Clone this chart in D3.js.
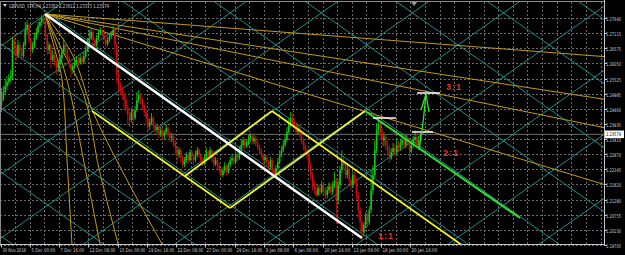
<!DOCTYPE html>
<html><head><meta charset="utf-8">
<script src="https://cdn.jsdelivr.net/npm/d3@7"></script>
<style>html,body{margin:0;padding:0;background:#000;overflow:hidden}svg{display:block}</style>
</head><body><svg id="c" width="625" height="255"></svg>
<script>
// ---------- DATA ----------
const chartTitle = "GBPUSD_STR,H4  1.23382 1.23612 1.23373 1.23574";
const firstOpen = 1.2460;
const closes = [
1.2477,1.2505,1.2526,1.2540,1.2554,1.2561,1.2687,1.2659,1.2635,1.2670,
1.2645,1.2631,1.2670,1.2722,1.2740,1.2687,1.2652,1.2670,1.2694,1.2715,
1.2736,1.2750,1.2764,1.2757,1.2705,1.2652,1.2670,1.2617,1.2635,1.2610,
1.2589,1.2603,1.2624,1.2645,1.2670,1.2652,1.2624,1.2603,1.2582,1.2596,
1.2610,1.2617,1.2607,1.2624,1.2610,1.2631,1.2652,1.2680,1.2694,1.2715,
1.2687,1.2670,1.2694,1.2712,1.2722,1.2705,1.2687,1.2673,1.2687,1.2701,
1.2708,1.2722,1.2670,1.2565,1.2530,1.2512,1.2495,1.2477,1.2449,1.2425,
1.2407,1.2435,1.2414,1.2442,1.2477,1.2495,1.2477,1.2460,1.2435,1.2414,
1.2386,1.2400,1.2414,1.2390,1.2372,1.2383,1.2358,1.2372,1.2351,1.2365,
1.2379,1.2362,1.2344,1.2351,1.2330,1.2309,1.2285,1.2302,1.2278,1.2250,
1.2267,1.2285,1.2267,1.2295,1.2278,1.2267,1.2285,1.2302,1.2285,1.2267,
1.2260,1.2278,1.2295,1.2281,1.2302,1.2274,1.2253,1.2267,1.2250,1.2232,
1.2215,1.2232,1.2246,1.2225,1.2250,1.2267,1.2274,1.2260,1.2285,1.2274,
1.2302,1.2320,1.2337,1.2316,1.2330,1.2344,1.2351,1.2334,1.2344,1.2327,
1.2313,1.2302,1.2285,1.2267,1.2278,1.2260,1.2243,1.2267,1.2232,1.2215,
1.2239,1.2260,1.2285,1.2302,1.2320,1.2337,1.2365,1.2390,1.2414,1.2400,
1.2390,1.2365,1.2379,1.2355,1.2337,1.2320,1.2302,1.2285,1.2250,1.2215,
1.2187,1.2162,1.2145,1.2169,1.2155,1.2180,1.2162,1.2145,1.2162,1.2176,
1.2155,1.2180,1.2197,1.2127,1.2180,1.2232,1.2267,1.2250,1.2215,1.2232,
1.2197,1.2180,1.2215,1.2197,1.2145,1.2092,1.2050,1.2015,1.2040,1.2075,
1.2050,1.2092,1.2162,1.2215,1.2302,1.2372,1.2390,1.2362,1.2337,1.2348,
1.2320,1.2302,1.2274,1.2295,1.2309,1.2295,1.2320,1.2309,1.2327,1.2337,
1.2320,1.2344,1.2330,1.2302,1.2320,1.2337,1.2348,1.2320,1.23382,1.23574];
const highs = [
1.2519,1.2526,1.2547,1.2561,1.2568,1.2582,1.2698,1.2705,1.2670,1.2687,
1.2680,1.2659,1.2680,1.2750,1.2757,1.2747,1.2694,1.2680,1.2712,1.2729,
1.2750,1.2764,1.2775,1.2778,1.2764,1.2712,1.2680,1.2673,1.2652,1.2645,
1.2617,1.2617,1.2635,1.2659,1.2694,1.2680,1.2659,1.2631,1.2610,1.2603,
1.2617,1.2631,1.2628,1.2635,1.2631,1.2645,1.2666,1.2694,1.2722,1.2729,
1.2722,1.2694,1.2705,1.2722,1.2733,1.2729,1.2712,1.2694,1.2698,1.2712,
1.2719,1.2736,1.2729,1.2677,1.2575,1.2540,1.2523,1.2505,1.2488,1.2460,
1.2435,1.2449,1.2442,1.2456,1.2505,1.2512,1.2502,1.2484,1.2467,1.2442,
1.2421,1.2411,1.2432,1.2421,1.2400,1.2393,1.2390,1.2383,1.2379,1.2372,
1.2393,1.2386,1.2369,1.2362,1.2358,1.2337,1.2316,1.2313,1.2309,1.2285,
1.2278,1.2295,1.2292,1.2306,1.2302,1.2285,1.2299,1.2313,1.2309,1.2292,
1.2278,1.2288,1.2309,1.2302,1.2313,1.2306,1.2281,1.2278,1.2274,1.2257,
1.2239,1.2243,1.2260,1.2253,1.2260,1.2278,1.2288,1.2281,1.2295,1.2295,
1.2316,1.2337,1.2348,1.2344,1.2341,1.2355,1.2362,1.2358,1.2355,1.2351,
1.2334,1.2320,1.2309,1.2292,1.2285,1.2285,1.2267,1.2278,1.2274,1.2239,
1.2250,1.2274,1.2295,1.2316,1.2337,1.2358,1.2383,1.2414,1.2435,1.2432,
1.2414,1.2400,1.2390,1.2386,1.2362,1.2344,1.2327,1.2309,1.2292,1.2260,
1.2225,1.2197,1.2176,1.2180,1.2183,1.2194,1.2190,1.2173,1.2176,1.2190,
1.2187,1.2194,1.2225,1.2204,1.2197,1.2246,1.2302,1.2278,1.2260,1.2250,
1.2239,1.2208,1.2225,1.2229,1.2204,1.2155,1.2103,1.2060,1.2050,1.2085,
1.2085,1.2106,1.2232,1.2250,1.2337,1.2397,1.2414,1.2404,1.2379,1.2365,
1.2358,1.2334,1.2316,1.2309,1.2327,1.2323,1.2344,1.2334,1.2341,1.2358,
1.2351,1.2358,1.2355,1.2341,1.2334,1.2351,1.2372,1.2358,1.2351,1.23612];
const lows = [
1.2435,1.2474,1.2494,1.2512,1.2530,1.2540,1.2547,1.2635,1.2617,1.2624,
1.2631,1.2617,1.2624,1.2663,1.2705,1.2677,1.2628,1.2642,1.2659,1.2687,
1.2708,1.2729,1.2736,1.2743,1.2687,1.2635,1.2638,1.2589,1.2610,1.2596,
1.2565,1.2575,1.2596,1.2617,1.2638,1.2635,1.2610,1.2589,1.2558,1.2568,
1.2586,1.2600,1.2596,1.2600,1.2603,1.2603,1.2624,1.2645,1.2673,1.2687,
1.2673,1.2659,1.2663,1.2687,1.2705,1.2694,1.2673,1.2659,1.2666,1.2680,
1.2691,1.2701,1.2635,1.2537,1.2505,1.2495,1.2477,1.2442,1.2432,1.2390,
1.2383,1.2400,1.2397,1.2407,1.2435,1.2467,1.2463,1.2442,1.2421,1.2393,
1.2365,1.2372,1.2390,1.2376,1.2358,1.2362,1.2344,1.2348,1.2337,1.2341,
1.2358,1.2348,1.2330,1.2330,1.2316,1.2285,1.2260,1.2274,1.2260,1.2239,
1.2243,1.2257,1.2253,1.2260,1.2264,1.2250,1.2260,1.2278,1.2274,1.2257,
1.2246,1.2250,1.2271,1.2267,1.2274,1.2260,1.2243,1.2246,1.2236,1.2218,
1.2204,1.2208,1.2222,1.2215,1.2218,1.2243,1.2257,1.2250,1.2253,1.2264,
1.2267,1.2295,1.2309,1.2306,1.2309,1.2320,1.2330,1.2323,1.2323,1.2316,
1.2302,1.2288,1.2274,1.2250,1.2257,1.2246,1.2225,1.2236,1.2222,1.2204,
1.2208,1.2232,1.2253,1.2278,1.2295,1.2313,1.2330,1.2358,1.2383,1.2390,
1.2376,1.2355,1.2355,1.2341,1.2323,1.2302,1.2288,1.2271,1.2232,1.2201,
1.2162,1.2148,1.2138,1.2141,1.2141,1.2148,1.2152,1.2131,1.2134,1.2152,
1.2145,1.2145,1.2169,1.2043,1.2110,1.2169,1.2222,1.2236,1.2201,1.2204,
1.2183,1.2162,1.2169,1.2183,1.2131,1.2064,1.2015,1.1987,1.2001,1.2029,
1.2033,1.2040,1.2082,1.2145,1.2204,1.2292,1.2355,1.2344,1.2316,1.2316,
1.2302,1.2281,1.2257,1.2267,1.2285,1.2278,1.2285,1.2295,1.2299,1.2316,
1.2306,1.2309,1.2316,1.2267,1.2292,1.2309,1.2327,1.2309,1.2313,1.23373];

const timeLabels = ["30 Nov 2016","5 Dec 00:00","7 Dec 16:00","12 Dec 08:00","15 Dec 00:00",
  "19 Dec 16:00","22 Dec 08:00","27 Dec 00:00","29 Dec 16:00","3 Jan 08:00","6 Jan 00:00",
  "10 Jan 16:00","13 Jan 08:00","18 Jan 00:00","20 Jan 16:00"];
const barsPerLabel = 16;
const priceTicks = [1.27640,1.27115,1.26575,1.26050,1.25525,1.24985,1.24460,1.23935,
  1.23410,1.22870,1.22345,1.21820,1.21280,1.20755,1.20230,1.19705];
const lastPrice = 1.23574;

// Gann grid (bars / price)
const gannAnchor = [224.6, 1.2782];
const gannStep = [24.9, 0.0112];
// Gann fan from the top
const fanOrigin = [23.8, 1.2778];
const fanSlope1x1 = 0.00039;            // price per bar
const fanRatios = [1/8, 1/4, 1/3, 1/2];
const fanSteep = [
  [[23.8,1.2778],[29.2,1.26521],[33.1,1.25473],[35.8,1.22676],[38.5,1.1974]],
  [[23.8,1.2778],[30.9,1.26521],[35.8,1.25473],[44.5,1.22781],[53.8,1.1974]],
  [[23.8,1.2778],[33.1,1.26521],[41.8,1.25473],[53.8,1.22222],[63.7,1.1974]],
  [[23.8,1.2778],[37.4,1.26521],[50.0,1.24354],[68.6,1.21977],[87.7,1.1974]]
];
const whiteTrend = [[23.8,1.2778],[197,1.1995]];
const yellowLines = [
  [[49.5,1.24389],[124.9,1.20998]],
  [[100.3,1.22117],[147.8,1.24389]],
  [[124.9,1.20998],[198.7,1.24389]],
  [[147.8,1.24389],[253.9,1.19600]]
];
const greenLine = [[198.7,1.24389],[283.4,1.20649]];
const whiteLevels = [[203.0,215.6,1.24144],[224.3,235.8,1.23655],[227.1,239.7,1.25018]];
const arrowPath = [[228.2,1.23026],[230.3,1.23970],[232.0,1.24983]];
const arrowBarbs = [[[229.3,1.24424],[232.0,1.24983]],[[233.6,1.24354],[232.0,1.24983]]];
const ratioLabels = [["3:1",242.9,1.25123],["2:1",241.3,1.22816],["1:1",205.8,1.19915]];

// ---------- SCALES ----------
const W = 625, H = 255;
const plotL = 0, plotR = 604, plotT = 2, plotB = 244.5;
const x = d3.scaleLinear().domain([0, 329]).range([1.5, 603.5]);
const y = d3.scaleLinear().domain([1.19705, 1.27640]).range([245, 18]);

const svg = d3.select("#c");
svg.append("rect").attr("width", W).attr("height", H).attr("fill", "#000");
svg.append("defs").append("clipPath").attr("id", "clip")
  .append("rect").attr("x", plotL).attr("y", plotT).attr("width", plotR - plotL).attr("height", plotB - plotT);

const grid = svg.append("g");
grid.selectAll("line.h").data(priceTicks).join("line")
  .attr("x1", plotL).attr("x2", plotR)
  .attr("y1", d => Math.round(y(d)) + 0.5).attr("y2", d => Math.round(y(d)) + 0.5)
  .attr("stroke", "#6a6a6a").attr("stroke-width", 1).attr("stroke-dasharray", "2,2");
const vgrid = d3.range(8, 330, 8);
grid.selectAll("line.v").data(vgrid).join("line")
  .attr("x1", d => Math.round(x(d)) - 0.5).attr("x2", d => Math.round(x(d)) - 0.5)
  .attr("y1", plotT).attr("y2", plotB)
  .attr("stroke", "#6a6a6a").attr("stroke-width", 1).attr("stroke-dasharray", "2,2");

const plot = svg.append("g").attr("clip-path", "url(#clip)");

plot.append("line").attr("x1", plotL).attr("x2", plotR)
  .attr("y1", y(lastPrice)).attr("y2", y(lastPrice))
  .attr("stroke", "#6f6f6f").attr("stroke-width", 1);

const line = d3.line().x(d => x(d[0])).y(d => y(d[1]));
const gg = plot.append("g").attr("stroke", "#1f9e95").attr("stroke-width", 0.9).attr("fill", "none");
const bx0 = -20, bx1 = 345;
for (let m = -20; m <= 20; m++) {
  const desc = b => gannAnchor[1] - gannStep[1] * ((b - gannAnchor[0]) / gannStep[0] + 2 * m);
  const asc = b => gannAnchor[1] - gannStep[1] * (2 * m - (b - gannAnchor[0]) / gannStep[0]);
  gg.append("path").attr("d", line([[bx0, desc(bx0)], [bx1, desc(bx1)]]));
  gg.append("path").attr("d", line([[bx0, asc(bx0)], [bx1, asc(bx1)]]));
}

const fg = plot.append("g").attr("stroke", "#c09a12").attr("stroke-width", 1).attr("fill", "none");
fanRatios.forEach(r => {
  const end = 340;
  fg.append("path").attr("d", line([fanOrigin, [end, fanOrigin[1] - fanSlope1x1 * r * (end - fanOrigin[0])]]));
});
const curve = d3.line().x(d => x(d[0])).y(d => y(d[1])).curve(d3.curveMonotoneY);
fanSteep.forEach(pts => fg.append("path").attr("d", curve(pts)));

const bars = closes.map((c, i) => {
  const o = i === 0 ? firstOpen : closes[i - 1];
  return { i, o, c, h: Math.max(highs[i], o, c), l: Math.min(lows[i], o, c) };
});
const cg = plot.append("g");
cg.selectAll("line").data(bars).join("line")
  .attr("x1", d => x(d.i)).attr("x2", d => x(d.i))
  .attr("y1", d => y(d.h)).attr("y2", d => y(d.l))
  .attr("stroke", d => d.c >= d.o ? "#10c810" : "#c81010").attr("stroke-width", 0.9);
cg.selectAll("rect").data(bars).join("rect")
  .attr("x", d => x(d.i) - 0.8).attr("width", 1.6)
  .attr("y", d => y(Math.max(d.o, d.c)))
  .attr("height", d => Math.max(0.8, Math.abs(y(d.o) - y(d.c))))
  .attr("fill", d => d.c >= d.o ? "#10c810" : "#c81010");

yellowLines.forEach(l => plot.append("path").attr("d", line(l))
  .attr("stroke", "#f2f21e").attr("stroke-width", 1.8).attr("fill", "none"));
plot.append("path").attr("d", line(whiteTrend)).attr("stroke", "#ffffff").attr("stroke-width", 2.6).attr("fill", "none");
plot.append("path").attr("d", line(greenLine)).attr("stroke", "#2fe02f").attr("stroke-width", 2).attr("fill", "none");
whiteLevels.forEach(d => plot.append("line")
  .attr("x1", x(d[0])).attr("x2", x(d[1])).attr("y1", y(d[2])).attr("y2", y(d[2]))
  .attr("stroke", "#ffffff").attr("stroke-width", 1.3));
const smooth = d3.line().x(d => x(d[0])).y(d => y(d[1])).curve(d3.curveCatmullRom);
plot.append("path").attr("d", smooth(arrowPath)).attr("stroke", "#2fe02f").attr("stroke-width", 1.3).attr("fill", "none");
arrowBarbs.forEach(b => plot.append("path").attr("d", line(b)).attr("stroke", "#2fe02f").attr("stroke-width", 1.3).attr("fill", "none"));
ratioLabels.forEach(d => plot.append("text").attr("x", x(d[1])).attr("y", y(d[2]))
  .attr("fill", "#e8302a").attr("font-family", "Liberation Sans, Arial, sans-serif")
  .attr("font-size", 9).attr("font-weight", "bold").attr("textLength", 15).attr("lengthAdjust", "spacing").text(d[0]));

svg.append("line").attr("x1", 0).attr("x2", plotR).attr("y1", 1.5).attr("y2", 1.5).attr("stroke", "#8a8a8a");
svg.append("line").attr("x1", 0.5).attr("x2", 0.5).attr("y1", 1.5).attr("y2", plotB).attr("stroke", "#8a8a8a");
svg.append("line").attr("x1", plotR + 0.5).attr("x2", plotR + 0.5).attr("y1", 0).attr("y2", plotB)
  .attr("stroke", "#c8c8c8");
svg.append("line").attr("x1", 0).attr("x2", plotR + 1).attr("y1", plotB).attr("y2", plotB)
  .attr("stroke", "#c8c8c8");
svg.append("path").attr("d", `M${x(225.5)-3},2 L${x(225.5)+3},2 L${x(225.5)},6 Z`).attr("fill", "#9a9a9a");

const font = "'Liberation Sans Narrow', 'DejaVu Sans Condensed', 'Arial Narrow', sans-serif";
const ax = svg.append("g").attr("font-family", font).attr("fill", "#d0d0d0");
priceTicks.forEach(p => {
  const yy = Math.round(y(p)) + 0.5;
  ax.append("line").attr("x1", plotR).attr("x2", plotR + 3).attr("y1", yy).attr("y2", yy).attr("stroke", "#c8c8c8");
  ax.append("text").attr("x", 606).attr("y", yy + 2.1).attr("font-size", 5.1)
    .attr("textLength", 15).attr("lengthAdjust", "spacingAndGlyphs").text(p.toFixed(5));
});
const ly = y(lastPrice);
svg.append("rect").attr("x", 605).attr("y", ly - 3.8).attr("width", 19).attr("height", 7.6).attr("fill", "#ffffff");
svg.append("text").attr("x", 606).attr("y", ly + 2.1).attr("font-family", font).attr("font-size", 5.1)
  .attr("fill", "#000").attr("textLength", 15).attr("lengthAdjust", "spacingAndGlyphs").text(lastPrice.toFixed(5));

timeLabels.forEach((t, k) => {
  const xx = Math.round(x(k * barsPerLabel)) - 0.5;
  ax.append("line").attr("x1", xx).attr("x2", xx).attr("y1", plotB).attr("y2", plotB + 3).attr("stroke", "#c8c8c8");
  ax.append("text").attr("x", xx + 1).attr("y", 252).attr("font-size", 5)
    .attr("textLength", t.length * 2.15).attr("lengthAdjust", "spacingAndGlyphs").text(t);
});

svg.append("path").attr("d", "M3,4 L7,4 L5,7 Z").attr("fill", "#d0d0d0");
svg.append("text").attr("x", 9).attr("y", 8).attr("font-family", font).attr("font-size", 5.5)
  .attr("fill", "#d0d0d0").attr("textLength", 100).attr("lengthAdjust", "spacingAndGlyphs").text(chartTitle);
</script></body></html>
